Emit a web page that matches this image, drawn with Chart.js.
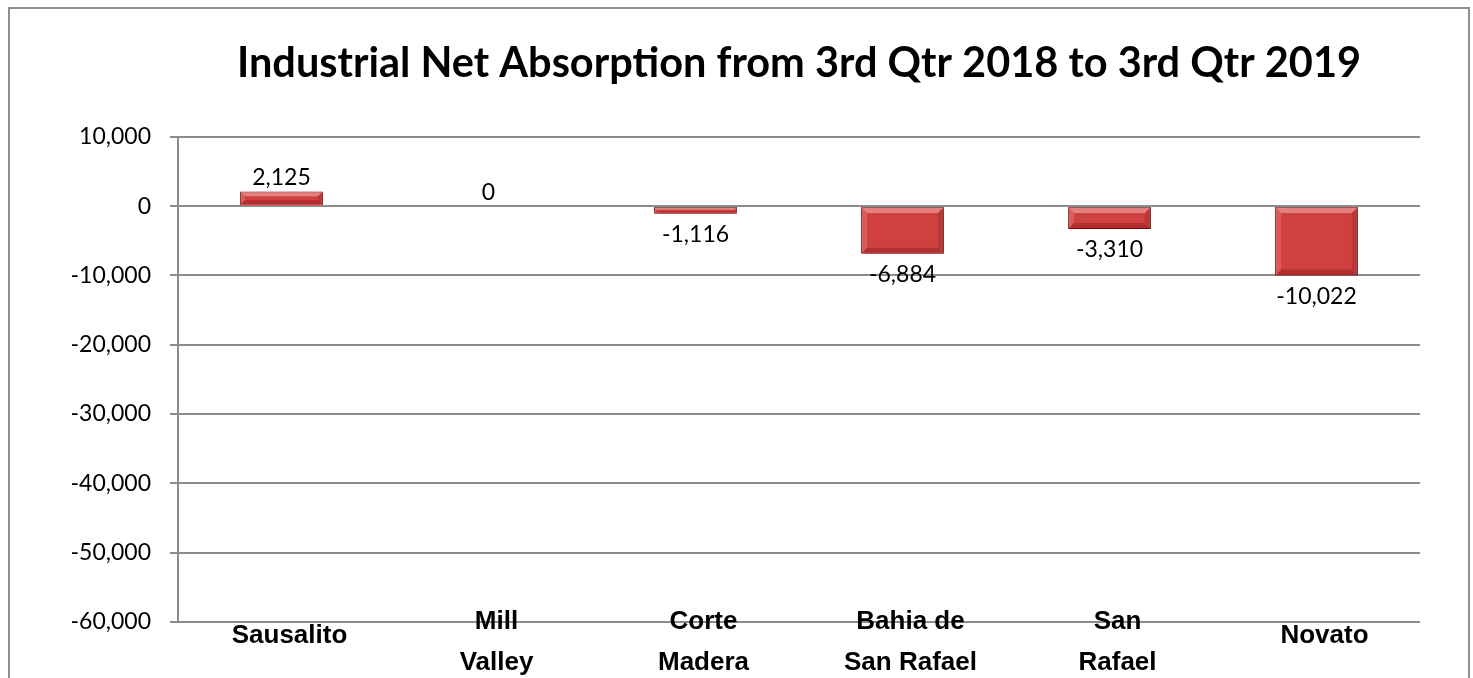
<!DOCTYPE html>
<html>
<head>
<meta charset="utf-8">
<script src="https://cdn.jsdelivr.net/npm/chart.js@4/dist/chart.umd.min.js"></script>
<style>
  html, body { margin: 0; padding: 0; background: #fff; overflow: hidden; }
  #wrap { position: relative; width: 1473px; height: 678px; }
  #frame { position: absolute; left: 8px; top: 7px; width: 1458px; height: 700px; border: 2px solid #8e8e8e; }
  canvas { position: absolute; left: 0; top: 0; }
</style>
</head>
<body>
<div id="wrap">
  <div id="frame"></div>
  <canvas id="absorption" width="1473" height="678"></canvas>
</div>
<script>
// chart data
var titleText = 'Industrial Net Absorption from 3rd Qtr 2018 to 3rd Qtr 2019';
var categories = [['Sausalito'], ['Mill', 'Valley'], ['Corte', 'Madera'], ['Bahia de', 'San Rafael'], ['San', 'Rafael'], ['Novato']];
var absorption = [2125, 0, -1116, -6884, -3310, -10022];
var yMin = -60000, yMax = 10000, yStep = 10000;

function fmt(v) { return v.toLocaleString('en-US'); }

// value labels at the bar ends
var valueLabels = {
  id: 'valueLabels',
  afterDatasetsDraw: function (chart) {
    var ctx = chart.ctx;
    var meta = chart.getDatasetMeta(0);
    ctx.save();
    ctx.font = '23px Lato';
    ctx.fillStyle = '#000';
    ctx.textAlign = 'center';
    ctx.textBaseline = 'middle';
    meta.data.forEach(function (bar, i) {
      var v = absorption[i];
      var y = v < 0 ? bar.y + 21 : bar.y - 14;
      ctx.fillText(fmt(v), bar.x, y);
    });
    ctx.restore();
  }
};

// soft shadow under bars
var barShadow = {
  id: 'barShadow',
  beforeDatasetsDraw: function (chart) {
    var ctx = chart.ctx;
    ctx.save();
    ctx.shadowColor = 'rgba(0,0,0,0.35)';
    ctx.shadowBlur = 6;
    ctx.shadowOffsetX = 2;
    ctx.shadowOffsetY = 3;
  },
  afterDatasetsDraw: function (chart) {
    chart.ctx.restore();
  }
};

// bevelled edges like the Excel bar style
var barBevel = {
  id: 'barBevel',
  afterDatasetsDraw: function (chart) {
    var ctx = chart.ctx;
    chart.getDatasetMeta(0).data.forEach(function (bar) {
      var l = bar.x - bar.width / 2 + 1, r = bar.x + bar.width / 2 - 1;
      var t = Math.min(bar.y, bar.base) + 1, b = Math.max(bar.y, bar.base) - 1;
      if (b - t < 2) return;
      var d = Math.min(5, (b - t) / 3);
      function quad(pts, col) {
        ctx.beginPath();
        ctx.moveTo(pts[0], pts[1]);
        for (var k = 2; k < pts.length; k += 2) ctx.lineTo(pts[k], pts[k + 1]);
        ctx.closePath();
        ctx.fillStyle = col;
        ctx.fill();
      }
      ctx.save();
      quad([l, t, r, t, r - d, t + d, l + d, t + d], 'rgba(255,190,190,0.5)');
      quad([l, t, l + d, t + d, l + d, b - d, l, b], 'rgba(255,170,170,0.25)');
      quad([r, t, r, b, r - d, b - d, r - d, t + d], 'rgba(90,0,0,0.15)');
      quad([l, b, l + d, b - d, r - d, b - d, r, b], 'rgba(80,0,0,0.25)');
      ctx.restore();
    });
  }
};

new Chart(document.getElementById('absorption'), {
  type: 'bar',
  data: {
    labels: categories,
    datasets: [{
      data: absorption,
      backgroundColor: '#cf4040',
      borderColor: '#7a1c1c',
      borderWidth: 1,
      barPercentage: 0.4,
      categoryPercentage: 1
    }]
  },
  plugins: [barShadow, barBevel, valueLabels],
  options: {
    responsive: false,
    animation: false,
    layout: { padding: { left: 0, right: 53, top: 0, bottom: 0 } },
    plugins: {
      legend: { display: false },
      tooltip: { enabled: false },
      title: {
        display: true,
        text: titleText,
        fullSize: false,
        color: '#000',
        font: { family: 'Lato', size: 41.5, weight: 'bold', lineHeight: 1.2 },
        padding: { top: 39, bottom: 48 }
      }
    },
    scales: {
      x: {
        grid: { display: false, drawTicks: false },
        border: { display: false },
        ticks: {
          color: '#000',
          // mirror keeps the labels from being clipped where they overlap the bottom gridline;
          // single-line labels sit a little lower, like the Excel original
          mirror: true,
          font: function (c) {
            var lbl = categories[c.index] || [];
            return { family: 'Liberation Sans', size: 26, weight: 'bold', lineHeight: lbl.length > 1 ? 1.58 : 0.5 };
          },
          padding: -20,
          labelOffset: 8,
          maxRotation: 0,
          autoSkip: false
        },
        afterFit: function (s) { s.height = 56; }
      },
      y: {
        min: yMin,
        max: yMax,
        grid: { color: '#8c8c8c', lineWidth: 2, tickLength: 8 },
        border: { color: '#8c8c8c', width: 2 },
        ticks: {
          stepSize: yStep,
          color: '#000',
          padding: 19,
          font: { family: 'Lato', size: 23 },
          callback: function (v) { return fmt(v); }
        },
        afterFit: function (s) { s.width = 178; }
      }
    }
  }
});
</script>
</body>
</html>
